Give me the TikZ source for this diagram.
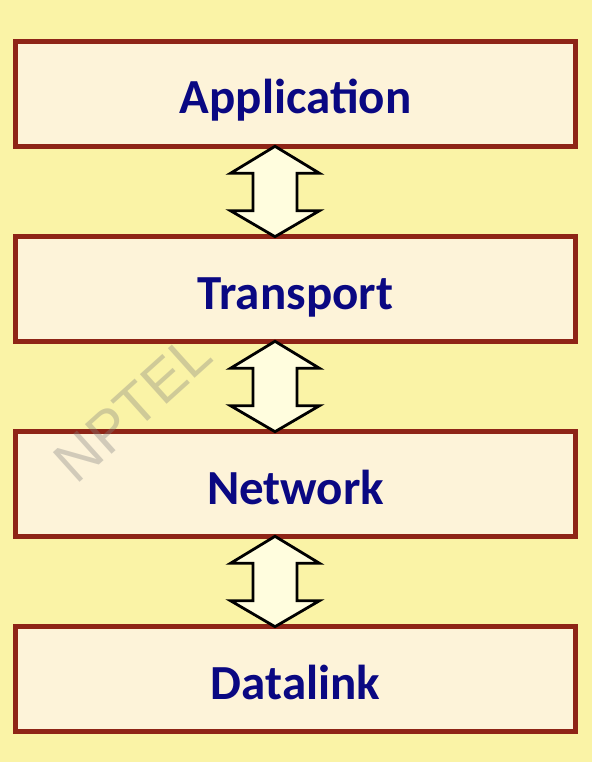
\documentclass[tikz,border=0pt]{standalone}
\usepackage{fontspec}
\setmainfont{Carlito}
\newfontfamily\wmfont{Liberation Sans}
\usetikzlibrary{calc}
\definecolor{bgyellow}{RGB}{250,243,166}
\definecolor{layerfill}{RGB}{253,243,217}
\definecolor{layerred}{RGB}{142,36,22}
\definecolor{layerblue}{RGB}{10,8,130}
\definecolor{arrowfill}{RGB}{255,253,222}

\begin{document}
\begin{tikzpicture}[x=1pt,y=-1pt,
  layer/.style={draw=layerred,line width=5pt,fill=layerfill,outer sep=0pt,inner sep=0pt,
    minimum width=560pt,minimum height=104.6pt,text=layerblue,
    font=\bfseries\fontsize{49}{52}\selectfont,text height=40pt,text depth=0pt},
  updown/.style={draw=black,line width=2.8pt,fill=arrowfill,line join=miter}]
\fill[bgyellow] (0,0) rectangle (592,762);
\coordinate (mid) at (275,0);
\node[layer] (app) at (295.5,94) {Application};
\node[layer] (trans) at (295.5,289) {Transport};
\node[layer] (net) at (295.5,484) {Network};
\node[layer] (dl) at (295.5,679) {Datalink};
\foreach \a/\b in {app/trans,trans/net,net/dl}
  \draw[updown] (\a.south -| mid) -- ++(44.5,27) -- ++(-22.5,0)
    -- ($(\b.north -| mid)+(22,-26)$) -- ++(22.5,0) -- (\b.north -| mid)
    -- ++(-44.5,-26) -- ++(22.5,0) -- ($(\a.south -| mid)+(-22,27)$)
    -- ++(-22.5,0) -- cycle;
\node[rotate=42,text=gray,opacity=0.35,font=\wmfont\fontsize{58}{58}\selectfont] (wm) at (133,408) {NPTEL};
\end{tikzpicture}
\end{document}
